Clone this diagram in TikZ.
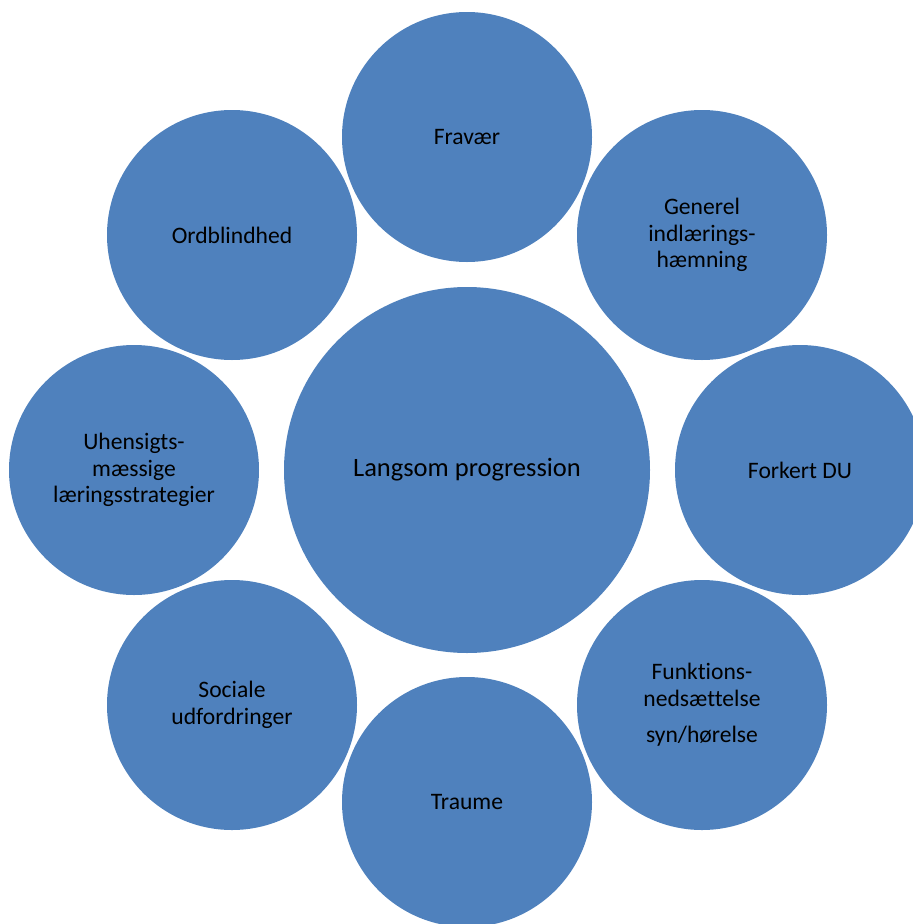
\documentclass[tikz,border=0pt]{standalone}
\usepackage{fontspec}
\setmainfont[Ligatures={NoCommon}]{Carlito}
\definecolor{bubble}{HTML}{4F81BD}
\tikzset{
  sat/.style={circle, fill=bubble, draw=none, minimum size=250pt, inner sep=0pt,
    align=center, text=black, font=\fontsize{23.6}{26.5}\selectfont},
  hub/.style={circle, fill=bubble, draw=none, minimum size=366pt, inner sep=0pt,
    align=center, text=black, font=\fontsize{26.5}{32}\selectfont}
}
\begin{document}
\begin{tikzpicture}[x=1pt,y=-1pt]
\clip (0,0) rectangle (913,924);
\useasboundingbox (0,0) rectangle (913,924);
\node[hub] (center) at (467,470) {Langsom progression};
\node[sat] (fravaer) at (467,137) {Fravær};
\node[sat] (generel) at (702,235) {Generel\\indlærings-\\hæmning};
\node[sat] (forkert) at (800,470) {Forkert DU};
\node[sat] (funktion) at (702,705) {Funktions-\\nedsættelse\\[10pt]syn/hørelse};
\node[sat] (traume) at (467,802) {Traume};
\node[sat] (sociale) at (232,705) {Sociale\\udfordringer};
\node[sat] (uhensigt) at (134,470) {Uhensigts-\\mæssige\\læringsstrategier};
\node[sat] (ordblind) at (232,235) {Ordblindhed};
\end{tikzpicture}
\end{document}
